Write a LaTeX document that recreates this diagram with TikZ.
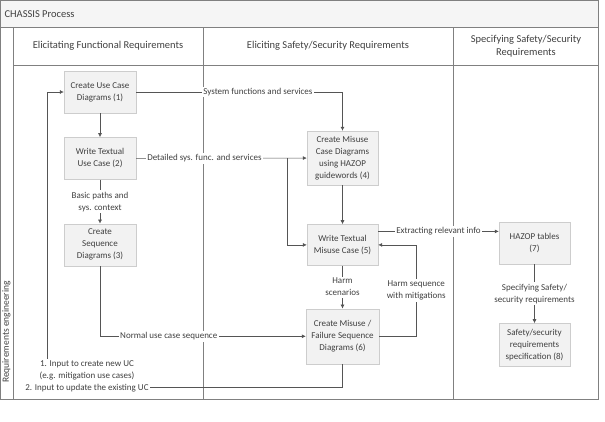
\documentclass[tikz,border=0pt]{standalone}
\usepackage{fontspec}
\setmainfont{Carlito}
\usetikzlibrary{arrows.meta,positioning,shadows}
\definecolor{framegray}{RGB}{128,128,128}
\definecolor{linegray}{RGB}{85,85,85}
\definecolor{boxfill}{RGB}{242,242,242}
\definecolor{boxline}{RGB}{205,205,205}
\definecolor{textgray}{RGB}{64,64,64}
\definecolor{headfill}{RGB}{245,245,245}

\begin{document}
\begin{tikzpicture}[x=1pt, y=-1pt, font=\fontsize{9}{12}\selectfont, text=textgray,
	proc/.style={draw=boxline, fill=boxfill, minimum width=72pt, minimum height=42pt, align=center, inner sep=2pt, drop shadow={opacity=0.15, shadow xshift=1pt, shadow yshift=-1pt}},
	lbl/.style={fill=white, inner sep=1.5pt, align=center},
	arr/.style={-{Latex[length=4pt, width=4pt]}, draw=linegray, semithick},
	con/.style={draw=linegray, semithick},
	lane/.style={draw=framegray, thick},
	head/.style={font=\fontsize{10.5}{13}\selectfont, align=center}]
	\useasboundingbox (0,0) rectangle (605,421);

	% pool and lanes
	\fill[headfill] (0,0) rectangle (598,27);
	\draw[lane] (0,0) rectangle (598,399);
	\draw[lane] (0,27) -- (598,27);
	\draw[lane] (13,65) -- (598,65);
	\draw[lane] (13,27) -- (13,399);
	\draw[lane] (203,27) -- (203,399);
	\draw[lane] (453,27) -- (453,399);

	\node[head, anchor=west] (title) at (1,14) {CHASSIS Process};
	\node[head] (h1) at (108,46) {Elicitating Functional Requirements};
	\node[head] (h2) at (328,46) {Eliciting Safety/Security Requirements};
	\node[head] (h3) at (526,46) {Specifying Safety/Security\\Requirements};
	\node[rotate=90, font=\fontsize{9.5}{11}\selectfont] (re) at (6.5,332) {Requirements engineering};

	% steps
	\node[proc] (ucd) at (100,92) {Create Use Case\\Diagrams (1)};
	\node[proc, below=24pt of ucd] (tuc) {Write Textual\\Use Case (2)};
	\node[proc, below=44pt of tuc] (seq) {Create\\Sequence\\Diagrams (3)};
	\node[proc, minimum width=71pt, minimum height=54pt] (mcd) at (342.5,158) {Create Misuse\\Case Diagrams\\using HAZOP\\guidewords (4)};
	\node[proc, minimum width=71pt, minimum height=41pt, below=39pt of mcd] (tmc) {Write Textual\\Misuse Case (5)};
	\node[proc, minimum width=73pt, minimum height=55pt, below=43pt of tmc] (fsd) {Create Misuse /\\Failure Sequence\\Diagrams (6)};
	\node[proc, minimum width=71pt] (hzt) at (534.5,243) {HAZOP tables\\(7)};
	\node[proc, minimum width=71pt, minimum height=43pt, below=59pt of hzt] (spec) {Safety/security\\requirements\\specification (8)};

	\node[lbl] (inp) at (87,376) {1. Input to create new UC\\(e.g. mitigation use cases)\\2. Input to update the existing UC};

	% flows
	\draw[arr] (ucd) -- (tuc);
	\draw[arr] (tuc) -- node[lbl] {Basic paths and\\sys. context} (seq);
	\draw[arr] (ucd.east) -| node[lbl, pos=0.295] {System functions and services} (mcd.north);
	\draw[arr] (tuc) -- node[lbl, pos=0.4] {Detailed sys. func. and services} (mcd);
	\coordinate (split) at (287,158);
	\draw[arr] (split) |- (tmc.west);
	\draw[arr] (mcd) -- (tmc);
	\draw[arr] ([yshift=13.5pt]tmc.east) -- node[lbl] {Extracting relevant info} ([yshift=13.5pt]tmc.east -| hzt.west);
	\draw[arr] (tmc) -- node[lbl] {Harm\\scenarios} (fsd);
	\draw[arr] (fsd.east) -- ++(37,0) |- node[lbl, pos=0.25] {Harm sequence\\with mitigations} (tmc.east);
	\draw[arr] (seq.south) |- node[lbl, pos=0.667] {Normal use case sequence} (fsd.west);
	\draw[arr] (hzt) -- node[lbl] {Specifying Safety/\\security requirements} (spec);
	\draw[con] (fsd.south) |- ([yshift=6pt]inp.south east);
	\draw[arr] ([xshift=-40pt]inp.north) |- (ucd.west);
\end{tikzpicture}
\end{document}
